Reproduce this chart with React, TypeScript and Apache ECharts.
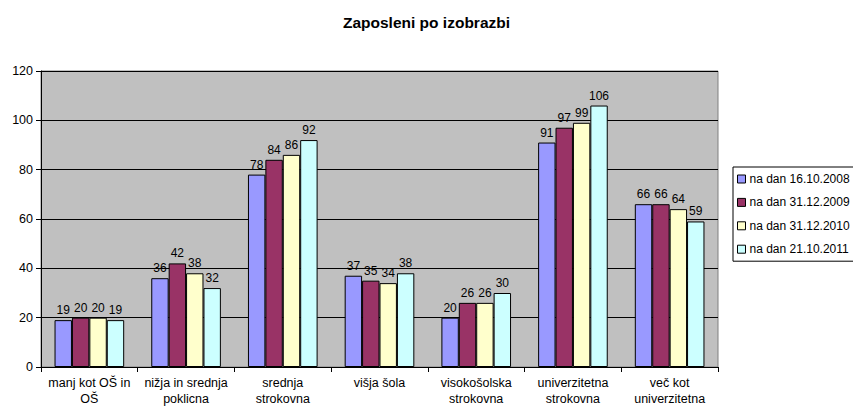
import React, { useEffect, useRef } from "react";
import * as echarts from "echarts";

const categories = [
  "manj kot OŠ in\nOŠ",
  "nižja in srednja\npoklicna",
  "srednja\nstrokovna",
  "višja šola",
  "visokošolska\nstrokovna",
  "univerzitetna\nstrokovna",
  "več kot\nuniverzitetna",
];

const seriesNames = [
  "na dan 16.10.2008",
  "na dan 31.12.2009",
  "na dan 31.12.2010",
  "na dan 21.10.2011",
];

const values2008 = [19, 36, 78, 37, 20, 91, 66];
const values2009 = [20, 42, 84, 35, 26, 97, 66];
const values2010 = [20, 38, 86, 34, 26, 99, 64];
const values2011 = [19, 32, 92, 38, 30, 106, 59];

const colors = ["#9999FF", "#993366", "#FFFFCC", "#CCFFFF"];

const FONT = "'Liberation Sans', Arial, sans-serif";

export default function App() {
  const ref = useRef<HTMLDivElement>(null);

  useEffect(() => {
    if (!ref.current) return;
    const chart = echarts.init(ref.current, undefined, { renderer: "svg" });
    const allValues = [values2008, values2009, values2010, values2011];
    chart.setOption({
      animation: false,
      backgroundColor: "#FFFFFF",
      textStyle: { fontFamily: FONT },
      title: {
        text: "Zaposleni po izobrazbi",
        left: "center",
        top: 9,
        textStyle: { fontFamily: FONT, fontSize: 15.5, fontWeight: "bold", color: "#000" },
      },
      legend: {
        orient: "vertical",
        left: 733,
        top: 167,
        padding: [6, 6, 6, 4],
        itemGap: 11.4,
        itemWidth: 8,
        itemHeight: 8,
        icon: "rect",
        borderColor: "#000",
        borderWidth: 1,
        itemStyle: { borderColor: "#000", borderWidth: 1 },
        textStyle: { fontFamily: FONT, fontSize: 12, color: "#000", padding: [0, 0, 0, -1] },
        data: seriesNames,
      },
      grid: {
        left: 41,
        right: 135,
        top: 71,
        bottom: 43,
        show: true,
        backgroundColor: "#C0C0C0",
        borderColor: "#808080",
        borderWidth: 1,
      },
      xAxis: {
        type: "category",
        data: categories,
        axisLine: { lineStyle: { color: "#000", width: 1 } },
        axisTick: { show: true, length: 5, lineStyle: { color: "#000" } },
        axisLabel: {
          interval: 0,
          margin: 8,
          fontFamily: FONT,
          fontSize: 12.5,
          lineHeight: 16,
          color: "#000",
        },
      },
      yAxis: {
        type: "value",
        min: 0,
        max: 120,
        interval: 20,
        axisLine: { show: true, lineStyle: { color: "#000", width: 1 } },
        axisTick: { show: true, length: 5, lineStyle: { color: "#000" } },
        axisLabel: { fontFamily: FONT, fontSize: 12.5, color: "#000", margin: 8 },
        splitLine: { show: true, lineStyle: { color: "#000", width: 1 } },
      },
      series: seriesNames.map((name, i) => ({
        name,
        type: "bar",
        data: allValues[i],
        barGap: "0%",
        barCategoryGap: "28%",
        itemStyle: { color: colors[i], borderColor: "#000", borderWidth: 1 },
        label: {
          show: true,
          position: "top",
          distance: 4,
          fontFamily: FONT,
          fontSize: 12,
          color: "#000",
        },
      })),
    });
    return () => chart.dispose();
  }, []);

  return (
    <div
      ref={ref}
      style={{ position: "absolute", left: 0, top: 0, width: 853, height: 410 }}
    />
  );
}
